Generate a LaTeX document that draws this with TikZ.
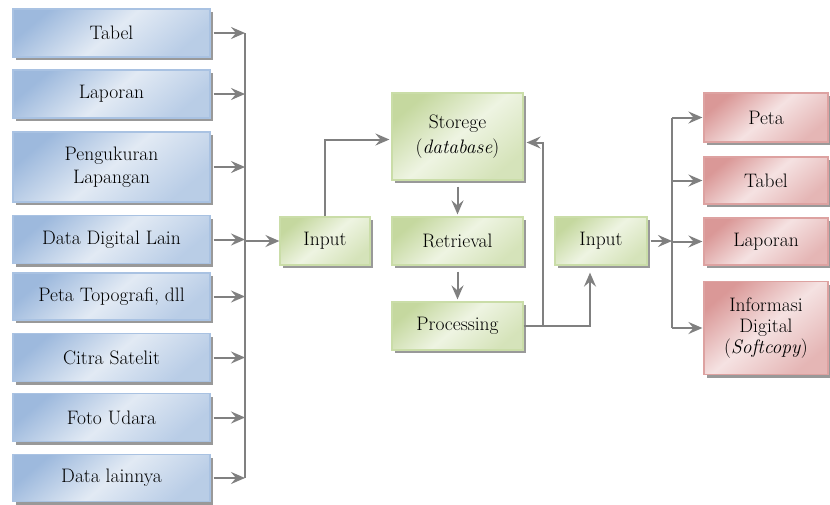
\documentclass[tikz,border=0pt]{standalone}
\usetikzlibrary{arrows.meta,shadows,calc}
\definecolor{bluD}{HTML}{9DB9DD}
\definecolor{bluL}{HTML}{E2EAF4}
\definecolor{bluB}{HTML}{A9C2E2}
\definecolor{grnD}{HTML}{C5D89F}
\definecolor{grnL}{HTML}{EEF4E2}
\definecolor{grnB}{HTML}{CADDA8}
\definecolor{redD}{HTML}{DA9897}
\definecolor{redL}{HTML}{F5E2E2}
\definecolor{redB}{HTML}{DDA2A1}
\definecolor{lineG}{HTML}{808080}
\begin{document}
\begin{tikzpicture}[x=1pt,y=-1pt,
  box/.style={rectangle, line width=1.2pt, align=center, inner sep=2pt,
    font=\fontsize{19.5}{22}\selectfont,
    general shadow={fill=black!40, shadow xshift=3pt, shadow yshift=-3pt}},
  bluebox/.style={box, draw=bluB, top color=bluD, bottom color=bluD!60!bluL, middle color=bluL, shading angle=40},
  greenbox/.style={box, draw=grnB, top color=grnD, bottom color=grnD!60!grnL, middle color=grnL, shading angle=40},
  redbox/.style={box, draw=redB, top color=redD, bottom color=redD!60!redL, middle color=redL, shading angle=40},
  lbox/.style={bluebox, minimum width=197pt},
  rbox/.style={redbox, minimum width=124pt},
  mbox/.style={greenbox, minimum width=131pt, minimum height=48pt},
  conn/.style={draw=lineG, line width=2pt, -{Stealth[length=14pt,width=12pt,inset=5pt]}},
  bus/.style={draw=lineG, line width=2pt}
]
\useasboundingbox (0,0) rectangle (830,504);
\fill[white] (0,0) rectangle (830,504);

% left column
\node[lbox, minimum height=48pt] (tabelL) at (111.5,33) {Tabel};
\node[lbox, minimum height=48pt] (laporanL) at (111.5,94) {Laporan};
\node[lbox, minimum height=70pt, font=\fontsize{19.5}{23}\selectfont] (ukur) at (111.5,167) {Pengukuran\\Lapangan};
\node[lbox, minimum height=48pt] (ddl) at (111.5,239.5) {Data Digital Lain};
\node[lbox, minimum height=47pt] (topo) at (111.5,296.5) {Peta Topografi, dll};
\node[lbox, minimum height=48pt] (citra) at (111.5,357.5) {Citra Satelit};
\node[lbox, minimum height=48pt] (foto) at (111.5,417.5) {Foto Udara};
\node[lbox, minimum height=47pt] (lain) at (111.5,478) {Data lainnya};

% middle
\node[greenbox, minimum width=90pt, minimum height=48pt] (in1) at (325,241) {Input};
\node[mbox, minimum height=87pt, font=\fontsize{19.5}{25}\selectfont] (sto) at (457.5,136.5) {Storege\\(\textit{database})};
\node[mbox] (ret) at (457.5,241) {Retrieval};
\node[mbox] (proc) at (457.5,326) {Processing};
\node[greenbox, minimum width=92pt, minimum height=48pt] (in2) at (601,241) {Input};

% right column
\node[rbox, minimum height=49pt] (peta) at (766,117.5) {Peta};
\node[rbox, minimum height=47pt] (tabelR) at (766,180.5) {Tabel};
\node[rbox, minimum height=47pt] (laporanR) at (766,241.5) {Laporan};
\node[rbox, minimum height=93pt, font=\fontsize{19.5}{21}\selectfont] (info) at (766,328) {Informasi\\Digital\\(\textit{Softcopy})};

% buses
\coordinate (busL) at (245,0);
\coordinate (busR) at (672,0);

\foreach \n in {tabelL,laporanL,ukur,ddl,topo,citra,foto,lain}
  \draw[conn] ([xshift=3pt]\n.east) -- (\n.east -| busL);
\draw[bus] (busL |- tabelL.east) -- (busL |- lain.east);
\draw[conn] (busL |- in1.west) -- (in1.west);

\draw[conn] (in1.north) |- ($(sto.west)+(-2,3)$);
\draw[conn] ([yshift=-6pt]sto.south) -- ([yshift=2pt]ret.north);
\draw[conn] ([yshift=-6pt]ret.south) -- ([yshift=2pt]proc.north);
\draw[conn] (proc.east) -| ($(in2.south)+(-11,7)$);
\draw[conn] ($(proc.east)+(19,0)$) |- ($(sto.east)+(3,6)$);

\draw[conn] ([xshift=3pt]in2.east) -- (in2.east -| busR);
\draw[bus] (busR |- peta.west) -- (busR |- info.west);
\foreach \n in {peta,tabelR,laporanR,info}
  \draw[conn] (busR |- \n.west) -- ([xshift=-1pt]\n.west);
\end{tikzpicture}
\end{document}
